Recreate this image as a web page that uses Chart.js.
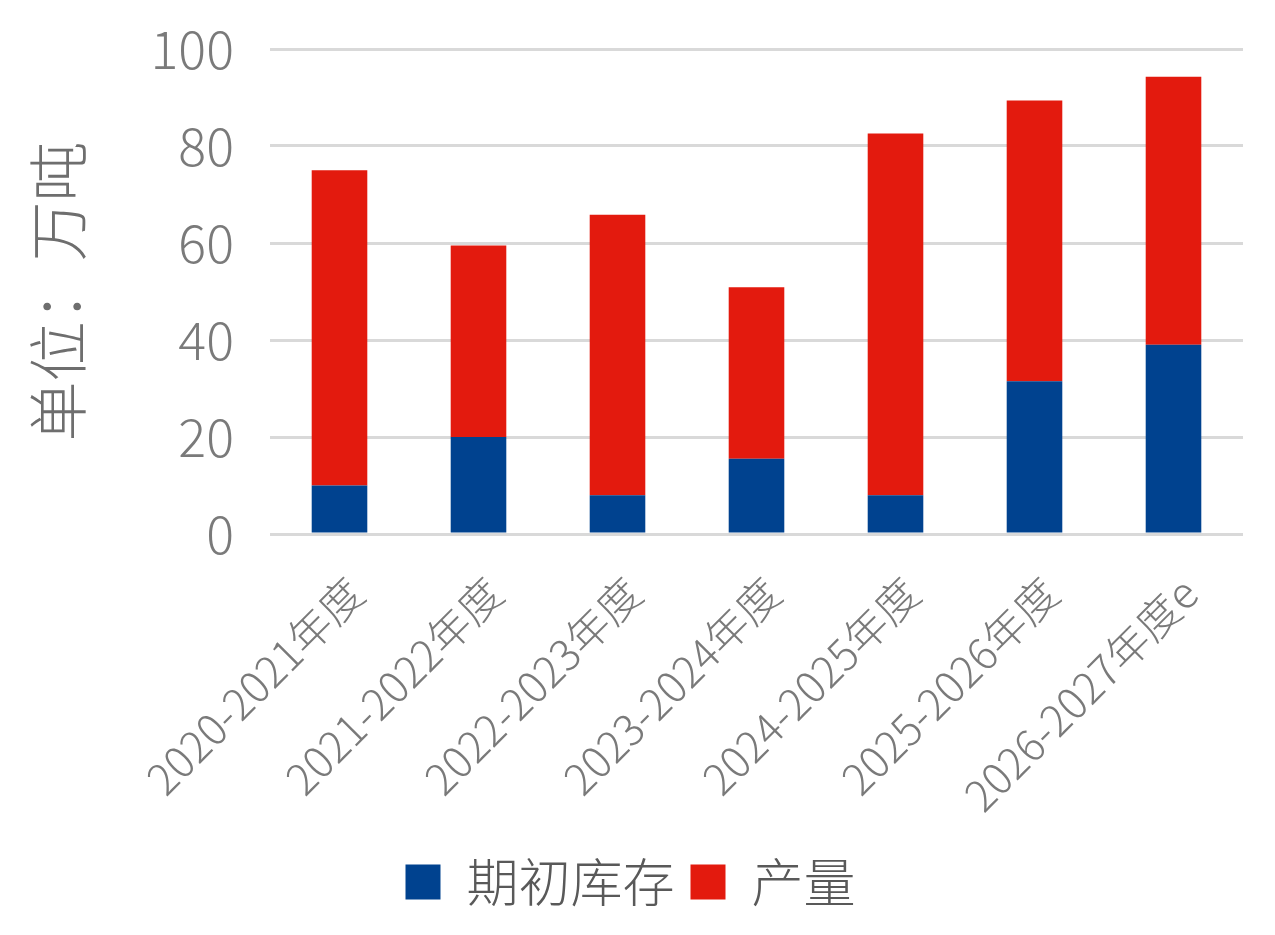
<!DOCTYPE html>
<html>
<head>
<meta charset="utf-8">
<script src="https://cdn.jsdelivr.net/npm/chart.js@4.4.1/dist/chart.umd.min.js"></script>
<style>
  html, body { margin: 0; padding: 0; background: #fff; }
  #wrap { width: 1275px; height: 935px; }
</style>
</head>
<body>
<div id="wrap"><canvas id="myChart" width="1275" height="935"></canvas></div>
<script>
    // 单位：万吨
    const categories = ['2020-2021年度', '2021-2022年度', '2022-2023年度', '2023-2024年度',
        '2024-2025年度', '2025-2026年度', '2026-2027年度e'];
    const openingStock = [10, 20, 8, 15.5, 8, 31.5, 39];
    const production = [65, 39.5, 57.8, 35.4, 74.6, 57.9, 55.3];
    const yTicks = [0, 20, 40, 60, 80, 100];

    const fontFamily = '"Noto Sans CJK SC", "Noto Sans", sans-serif';

    let ctx = document.getElementById("myChart").getContext("2d");
    let myChart = new Chart(ctx, {
        type: "bar",
        data: {
            labels: categories,
            datasets: [{
                label: "期初库存",
                data: openingStock,
                backgroundColor: "#00428f",
            }, {
                label: "产量",
                data: production,
                backgroundColor: "#e31a0e",
            }],
        },
        options: {
            responsive: false,
            animation: false,
            devicePixelRatio: 1,
            layout: {
                padding: {left: 18, right: 32, top: 49, bottom: 17}
            },
            datasets: {
                bar: {barPercentage: 0.8, categoryPercentage: 0.5}
            },
            scales: {
                x: {
                    stacked: true,
                    grid: {display: false},
                    border: {display: false},
                    ticks: {
                        minRotation: 45,
                        maxRotation: 45,
                        autoSkip: false,
                        padding: 25,
                        labelOffset: 16,
                        color: "#7a7a7a",
                        font: {family: fontFamily, size: 43, weight: 300}
                    },
                    afterFit: function (scale) {
                        scale.height = 306;
                    }
                },
                y: {
                    stacked: true,
                    min: 0,
                    max: 100,
                    afterBuildTicks: function (scale) {
                        scale.ticks = yTicks.map(v => ({value: v}));
                    },
                    grid: {color: "#d9d9d9", lineWidth: 3, drawTicks: false},
                    border: {display: false},
                    ticks: {
                        padding: 36,
                        color: "#7a7a7a",
                        font: {family: fontFamily, size: 52, weight: 300}
                    },
                    title: {
                        display: true,
                        text: "单位：万吨",
                        color: "#6e6e6e",
                        font: {family: fontFamily, size: 60, weight: 300},
                        padding: {top: 4, bottom: 4}
                    },
                    afterFit: function (scale) {
                        scale.width = 252;
                        // tick padding should not push the plot area down
                        scale.paddingTop = 0;
                        scale.paddingBottom = 0;
                    }
                }
            },
            plugins: {
                legend: {
                    position: "bottom",
                    labels: {
                        boxWidth: 35,
                        boxHeight: 35,
                        padding: 16,
                        color: "#595959",
                        font: {family: fontFamily, size: 52, weight: 300}
                    }
                },
                tooltip: {enabled: false}
            }
        }
    });
</script>
</body>
</html>
